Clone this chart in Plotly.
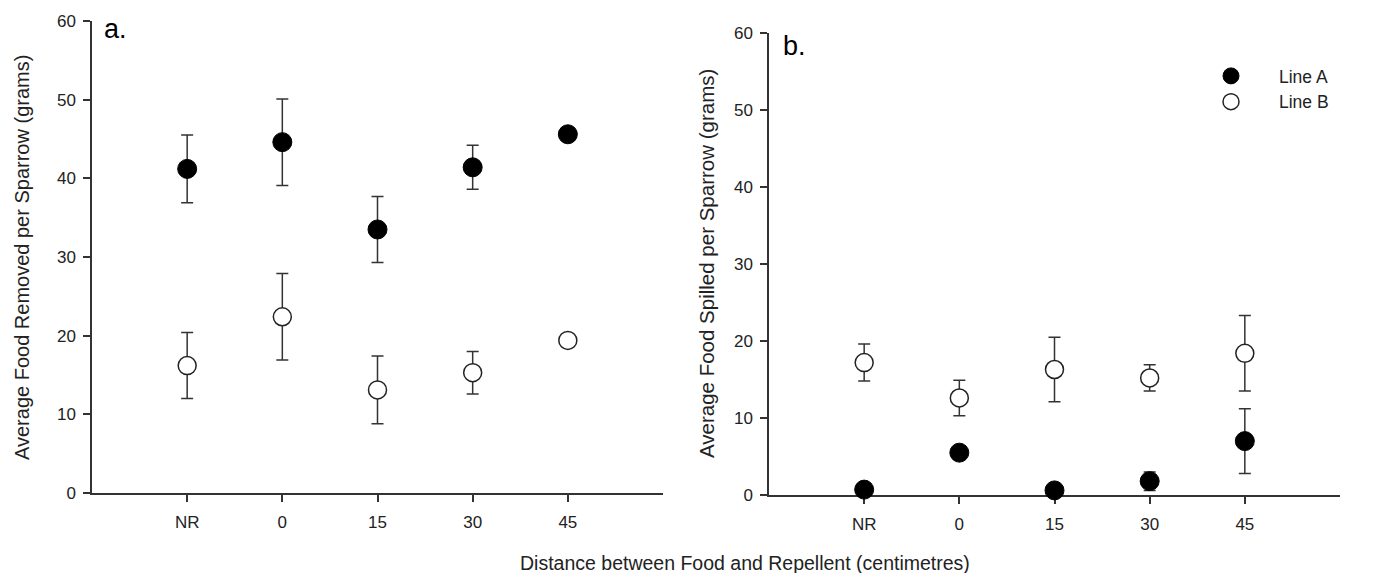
import plotly.graph_objects as go

# ---------------- data ----------------
categories = ["NR", "0", "15", "30", "45"]

removed_line_a = [41.2, 44.6, 33.5, 41.4, 45.6]
removed_line_a_err = [4.3, 5.5, 4.2, 2.8, 0.8]
removed_line_b = [16.2, 22.4, 13.1, 15.3, 19.4]
removed_line_b_err = [4.2, 5.5, 4.3, 2.7, 0.3]

spilled_line_a = [0.7, 5.5, 0.6, 1.8, 7.0]
spilled_line_a_err = [0.3, 0.4, 0.3, 1.2, 4.2]
spilled_line_b = [17.2, 12.6, 16.3, 15.2, 18.4]
spilled_line_b_err = [2.4, 2.3, 4.2, 1.7, 4.9]

y_ticks = [0, 10, 20, 30, 40, 50, 60]

# ---------------- style ----------------
W, H = 1397, 573
OFF = 8  # page body margin
FONT = "Arial, Liberation Sans, sans-serif"
TXT = "#222222"
AX = "#333333"
MSIZE = 19


def px_x(p):
    return (p - OFF) / W


def px_y(p):
    return 1 - (p - OFF) / H


def err(vals):
    return dict(type="data", array=vals, visible=True, color=AX, thickness=1.5, width=6)


fig = go.Figure()

# panel a
fig.add_trace(go.Scatter(x=categories, y=removed_line_a, error_y=err(removed_line_a_err),
                         mode="markers", xaxis="x", yaxis="y", name="Line A", showlegend=False,
                         cliponaxis=False,
                         marker=dict(symbol="circle", size=MSIZE, color="black",
                                     line=dict(color="black", width=1))))
fig.add_trace(go.Scatter(x=categories, y=removed_line_b, error_y=err(removed_line_b_err),
                         mode="markers", xaxis="x", yaxis="y", name="Line B", showlegend=False,
                         cliponaxis=False,
                         marker=dict(symbol="circle", size=MSIZE - 1, color="white",
                                     line=dict(color="#222222", width=1.5))))
# panel b
fig.add_trace(go.Scatter(x=categories, y=spilled_line_a, error_y=err(spilled_line_a_err),
                         mode="markers", xaxis="x2", yaxis="y2", name="Line A", showlegend=True,
                         cliponaxis=False,
                         marker=dict(symbol="circle", size=MSIZE, color="black",
                                     line=dict(color="black", width=1))))
fig.add_trace(go.Scatter(x=categories, y=spilled_line_b, error_y=err(spilled_line_b_err),
                         mode="markers", xaxis="x2", yaxis="y2", name="Line B", showlegend=True,
                         cliponaxis=False,
                         marker=dict(symbol="circle", size=MSIZE - 1, color="white",
                                     line=dict(color="#222222", width=1.5))))

xcommon = dict(type="category", categoryorder="array", categoryarray=categories,
               range=[-1, 5], showgrid=False, zeroline=False, showline=True,
               linecolor=AX, linewidth=1.5, ticks="outside", ticklen=7, tickwidth=1.5,
               tickcolor=AX, tickfont=dict(size=17, color=TXT, family=FONT),
               ticklabelstandoff=6, automargin=False, layer="below traces")
ycommon = dict(range=[0, 60], tickvals=y_ticks, showgrid=False, zeroline=False,
               showline=True, linecolor=AX, linewidth=1.5, ticks="outside", ticklen=7,
               tickwidth=1.5, tickcolor=AX, tickfont=dict(size=17, color=TXT, family=FONT),
               ticklabelstandoff=4, automargin=False, layer="below traces")

fig.update_layout(
    width=W, height=H,
    margin=dict(l=0, r=0, t=0, b=0),
    paper_bgcolor="white", plot_bgcolor="white",
    font=dict(family=FONT, color=TXT),
    xaxis=dict(xcommon, domain=[px_x(92), px_x(663)], anchor="y"),
    yaxis=dict(ycommon, domain=[px_y(493), px_y(21)], anchor="x"),
    xaxis2=dict(xcommon, domain=[px_x(769), px_x(1340)], anchor="y2"),
    yaxis2=dict(ycommon, domain=[px_y(495), px_y(33)], anchor="x2"),
    legend=dict(x=px_x(1183), y=px_y(58), xanchor="left", yanchor="top",
                bgcolor="rgba(0,0,0,0)", font=dict(size=17.5, color=TXT, family=FONT),
                itemwidth=86, tracegroupgap=0),
    showlegend=True,
)

annotations = [
    dict(text="a.", x=px_x(102), y=px_y(29), xref="paper", yref="paper",
         xanchor="left", yanchor="middle", showarrow=False,
         font=dict(size=27, color="black", family=FONT)),
    dict(text="b.", x=px_x(781), y=px_y(46), xref="paper", yref="paper",
         xanchor="left", yanchor="middle", showarrow=False,
         font=dict(size=27, color="black", family=FONT)),
    dict(text="Average Food Removed per Sparrow (grams)", x=px_x(22), y=px_y(258),
         xref="paper", yref="paper", xanchor="center", yanchor="middle",
         textangle=-90, showarrow=False, font=dict(size=20, color=TXT, family=FONT)),
    dict(text="Average Food Spilled per Sparrow (grams)", x=px_x(707), y=px_y(264),
         xref="paper", yref="paper", xanchor="center", yanchor="middle",
         textangle=-90, showarrow=False, font=dict(size=20.5, color=TXT, family=FONT)),
    dict(text="Distance between Food and Repellent (centimetres)", x=px_x(745), y=px_y(563),
         xref="paper", yref="paper", xanchor="center", yanchor="middle",
         showarrow=False, font=dict(size=19.5, color=TXT, family=FONT)),
]
fig.update_layout(annotations=annotations)

fig.write_html("out.html")
